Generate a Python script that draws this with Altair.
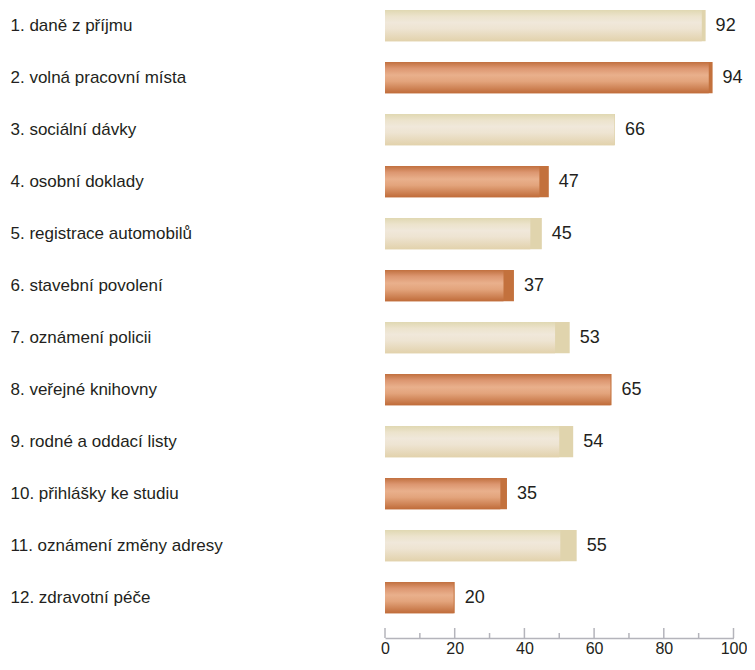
import altair as alt
import pandas as pd

categories = [
    "1. daně z příjmu",
    "2. volná pracovní místa",
    "3. sociální dávky",
    "4. osobní doklady",
    "5. registrace automobilů",
    "6. stavební povolení",
    "7. oznámení policii",
    "8. veřejné knihovny",
    "9. rodné a oddací listy",
    "10. přihlášky ke studiu",
    "11. oznámení změny adresy",
    "12. zdravotní péče",
]
values = [92, 94, 66, 47, 45, 37, 53, 65, 54, 35, 55, 20]
inner_values = [90.9, 92.9, 65.8, 44.3, 41.7, 34.0, 48.8, 64.7, 50.0, 33.1, 50.3, 19.7]
tones = ["beige", "copper"] * 6
major_ticks = [0, 20, 40, 60, 80, 100]
minor_ticks = [10, 30, 50, 70, 90]

df = pd.DataFrame({"category": categories, "value": values,
                   "inner": inner_values, "tone": tones})
ticks_major = pd.DataFrame({"t": major_ticks})
ticks_minor = pd.DataFrame({"t": minor_ticks})

H = 630
W = 348.5
TEXT = "#231f20"
AXIS_GREY = "#b4b4bb"

beige_grad = alt.Gradient(
    gradient="linear", x1=0, x2=0, y1=0, y2=1,
    stops=[
        alt.GradientStop(color="#e0d8b2", offset=0),
        alt.GradientStop(color="#ece3cc", offset=0.2),
        alt.GradientStop(color="#f0e8da", offset=0.4),
        alt.GradientStop(color="#eee4d2", offset=0.6),
        alt.GradientStop(color="#e2d2ac", offset=1),
    ],
)
copper_grad = alt.Gradient(
    gradient="linear", x1=0, x2=0, y1=0, y2=1,
    stops=[
        alt.GradientStop(color="#c1703f", offset=0),
        alt.GradientStop(color="#dc9670", offset=0.2),
        alt.GradientStop(color="#e9b08c", offset=0.42),
        alt.GradientStop(color="#e3a47c", offset=0.62),
        alt.GradientStop(color="#c06c3a", offset=1),
    ],
)

x_scale = alt.Scale(domain=[0, 100], nice=False, zero=True)
y_enc = alt.Y(
    "category:N", sort=categories, title=None,
    scale=alt.Scale(paddingInner=0.4, paddingOuter=0.2577, align=0.0746),
    axis=alt.Axis(ticks=False, domain=False, labelAlign="left",
                  labelPadding=375, labelFontSize=17, labelColor=TEXT,
                  labelLimit=400, labelBaseline="middle"),
)
x_enc_outer = alt.X(
    "value:Q", scale=x_scale, title=None,
    axis=alt.Axis(values=major_ticks, ticks=False, grid=False,
                  domainColor=AXIS_GREY, domainWidth=1.5,
                  labelFontSize=16, labelColor=TEXT, labelPadding=2,
                  labelFlush=False, labelOverlap=False),
)

base = alt.Chart(df)

beige_outer = base.transform_filter(alt.datum.tone == "beige").mark_bar(
    color="#e0d4ad").encode(x=x_enc_outer, y=y_enc)
beige_inner = base.transform_filter(alt.datum.tone == "beige").mark_bar(
    color=beige_grad).encode(x=alt.X("inner:Q", scale=x_scale), y=y_enc)
copper_outer = base.transform_filter(alt.datum.tone == "copper").mark_bar(
    color="#c3713d").encode(x=x_enc_outer, y=y_enc)
copper_inner = base.transform_filter(alt.datum.tone == "copper").mark_bar(
    color=copper_grad).encode(x=alt.X("inner:Q", scale=x_scale), y=y_enc)

labels = base.mark_text(align="left", baseline="middle", dx=10,
                        fontSize=18, color=TEXT).encode(
    x=alt.X("value:Q", scale=x_scale), y=y_enc, text=alt.Text("value:Q"))

major = alt.Chart(ticks_major).mark_rule(color=AXIS_GREY, strokeWidth=1.5).encode(
    x=alt.X("t:Q", scale=x_scale), y=alt.value(H - 10), y2=alt.value(H))
minor = alt.Chart(ticks_minor).mark_rule(color=AXIS_GREY, strokeWidth=1.5).encode(
    x=alt.X("t:Q", scale=x_scale), y=alt.value(H - 5), y2=alt.value(H))

chart = alt.layer(
    beige_outer, beige_inner, copper_outer, copper_inner, labels, major, minor
).properties(
    width=W, height=H,
    autosize=alt.AutoSizeParams(type="none"),
    padding={"left": 377, "top": 0, "right": 13.5, "bottom": 18},
).configure(font="Liberation Sans").configure_view(stroke=None)

chart.save("out.html", embed_options={"renderer": "svg", "actions": False})
